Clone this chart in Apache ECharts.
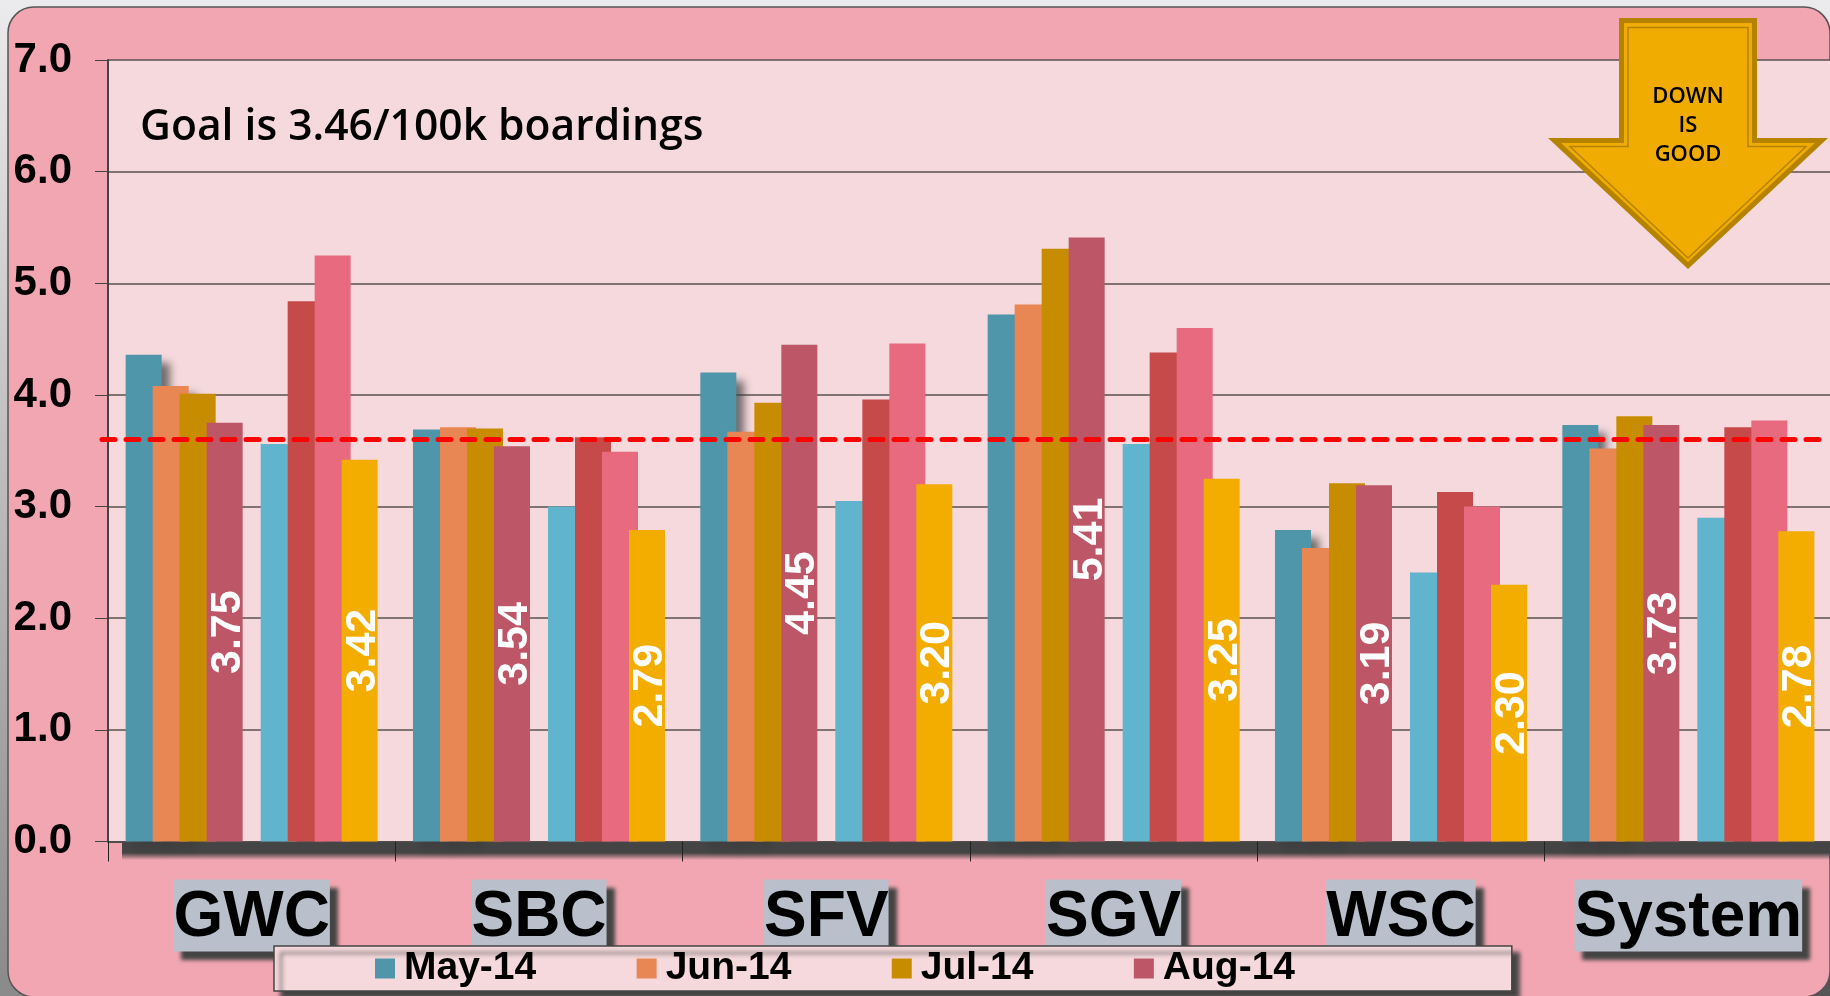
<!DOCTYPE html>
<html>
<head>
<meta charset="utf-8">
<title>Goal chart</title>
<script src="https://cdn.jsdelivr.net/npm/echarts@6/dist/echarts.min.js"></script>
<style>
  html, body { margin: 0; padding: 0; }
  #chart { width: 1830px; height: 996px; }
</style>
</head>
<body>
<div id="chart"></div>
<script>
const categories = ['GWC', 'SBC', 'SFV', 'SGV', 'WSC', 'System']

// first group of bars (the ones in the legend)
const may14 = [4.36, 3.69, 4.20, 4.72, 2.79, 3.73]
const jun14 = [4.08, 3.71, 3.67, 4.81, 2.63, 3.52]
const jul14 = [4.01, 3.70, 3.93, 5.31, 3.21, 3.81]
const aug14 = [3.75, 3.54, 4.45, 5.41, 3.19, 3.73]

// second group of bars, not in the legend
const second1 = [3.56, 3.00, 3.05, 3.56, 2.41, 2.90]
const second2 = [4.84, 3.62, 3.96, 4.38, 3.13, 3.71]
const second3 = [5.25, 3.49, 4.46, 4.60, 3.00, 3.77]
const second4 = [3.42, 2.79, 3.20, 3.25, 2.30, 2.78]

const goalLine = 3.6
const yTicks = { min: 0, max: 7, interval: 1 }
const legendNames = ['May-14', 'Jun-14', 'Jul-14', 'Aug-14']

const chart = echarts.init(document.getElementById('chart'))

const valueLabel = {
  show: true,
  position: 'inside',
  rotate: 90,
  offset: [0, 3],
  color: '#fff',
  fontFamily: 'Liberation Sans',
  fontWeight: 'bold',
  fontSize: 43,
  formatter: p => p.value.toFixed(2)
}

const barShadow = { shadowColor: 'rgba(60,60,60,0.7)', shadowBlur: 8, shadowOffsetX: 8, shadowOffsetY: 8 }

function bar(name, data, color, extra) {
  return Object.assign({
    name: name,
    type: 'bar',
    data: data,
    barWidth: 36,
    barGap: '-25%',
    itemStyle: { color: color }
  }, extra)
}

const series = [
  bar('May-14', may14, '#4f96aa', { itemStyle: Object.assign({ color: '#4f96aa' }, barShadow) }),
  bar('Jun-14', jun14, '#e88654', { itemStyle: Object.assign({ color: '#e88654' }, barShadow) }),
  bar('Jul-14', jul14, '#c88c00'),
  bar('Aug-14', aug14, '#bd5666', { label: valueLabel }),
  // empty slot between the two groups
  bar('gap', categories.map(() => null), 'transparent'),
  bar('second1', second1, '#61b4ce'),
  bar('second2', second2, '#c54a49'),
  bar('second3', second3, '#e76a7f'),
  bar('second4', second4, '#f2ad00', {
    label: valueLabel,
    markLine: {
      silent: true,
      symbol: 'none',
      animation: false,
      label: { show: false },
      lineStyle: { color: '#ff0000', width: 5, type: [13, 11], cap: 'round' },
      data: [[{ x: 102, yAxis: goalLine }, { x: 1830, yAxis: goalLine }]]
    }
  })
]

const arrowDark = '#b58300'
const arrowFill = '#f0ac00'

const graphic = [
  // page behind the panel
  { type: 'rect', z: -10, shape: { x: 0, y: 0, width: 1830, height: 996 },
    style: { fill: new echarts.graphic.LinearGradient(0, 0, 0, 1, [
      { offset: 0, color: '#ebebed' }, { offset: 1, color: '#8a8a8a' }]) } },
  { type: 'rect', z: -10, shape: { x: 1780, y: 960, width: 50, height: 36 }, style: { fill: '#555' } },
  // pink panel
  { type: 'rect', z: -9, shape: { x: 8, y: 7, width: 1822, height: 990, r: 26 },
    style: { fill: '#f2a6b2', stroke: '#555', lineWidth: 1.5 } },
  // dark band under the axis
  { type: 'rect', z: -8, shape: { x: 122, y: 842, width: 1708, height: 18 },
    style: { fill: new echarts.graphic.LinearGradient(0, 0, 0, 1, [
      { offset: 0, color: '#444' }, { offset: 0.6, color: '#444' }, { offset: 1, color: 'rgba(68,68,68,0)' }]) } },
  // arrow
  { type: 'polygon', z: 20, silent: true,
    shape: { points: [[1619, 18], [1757, 18], [1757, 138], [1828, 138], [1688, 269], [1548, 138], [1619, 138]] },
    style: { fill: arrowDark } },
  { type: 'polygon', z: 21, silent: true,
    shape: { points: [[1624, 23], [1752, 23], [1752, 143], [1815, 143], [1688, 262], [1561, 143], [1624, 143]] },
    style: { fill: arrowFill } },
  { type: 'polygon', z: 22, silent: true,
    shape: { points: [[1628, 27.5], [1748, 27.5], [1748, 146.5], [1806, 146.5], [1688, 258], [1570, 146.5], [1628, 146.5]] },
    style: { fill: arrowFill, stroke: arrowDark, lineWidth: 1.5 } },
  { type: 'text', z: 23, silent: true, x: 1688, y: 126,
    style: { text: 'DOWN\nIS\nGOOD', font: '600 22px "Open Sans"', fill: '#000', align: 'center',
      verticalAlign: 'middle', lineHeight: 29 } }
]

const option = {
  animation: false,
  title: {
    text: 'Goal is 3.46/100k boardings',
    left: 140,
    top: 106,
    padding: 0,
    textStyle: { fontFamily: 'Open Sans', fontWeight: 600, fontSize: 42.6, color: '#000' }
  },
  graphic: graphic,
  legend: {
    data: legendNames,
    left: 274,
    top: 946,
    orient: 'horizontal',
    icon: 'rect',
    itemWidth: 20,
    itemHeight: 20,
    itemGap: 100.4,
    padding: [1, 216.8, 1, 101],
    backgroundColor: '#f5d9dc',
    borderColor: '#444',
    borderWidth: 1.5,
    borderRadius: 0,
    shadowColor: '#444',
    shadowBlur: 4,
    shadowOffsetX: 7,
    shadowOffsetY: 7,
    selectedMode: false,
    textStyle: { fontFamily: 'Liberation Sans', fontWeight: 'bold', fontSize: 39, color: '#000', padding: [2, 0, 0, 4], lineHeight: 41 }
  },
  grid: { left: 108, width: 1724, top: 60, bottom: 154.5, outerBoundsMode: 'none', show: true, backgroundColor: '#f5d9dc', borderWidth: 0 },
  xAxis: {
    type: 'category',
    data: categories,
    axisLine: { lineStyle: { color: '#444', width: 1.5 } },
    axisTick: { show: true, alignWithLabel: false, length: 20, lineStyle: { color: '#222', width: 1 } },
    axisLabel: {
      interval: 0,
      margin: 38,
      fontFamily: 'Liberation Sans',
      fontWeight: 'bold',
      fontSize: 64,
      color: '#000',
      lineHeight: 66,
      padding: [6, 0, 0, 0],
      backgroundColor: '#b9c0cc',
      shadowColor: '#444',
      shadowBlur: 4,
      shadowOffsetX: 8,
      shadowOffsetY: 8
    }
  },
  yAxis: {
    type: 'value',
    min: yTicks.min,
    max: yTicks.max,
    interval: yTicks.interval,
    axisLine: { show: true, lineStyle: { color: '#444', width: 2 } },
    axisTick: { show: true, length: 13, lineStyle: { color: '#444', width: 1 } },
    axisLabel: {
      margin: 36,
      fontFamily: 'Liberation Sans',
      fontWeight: 'bold',
      fontSize: 42,
      color: '#000',
      formatter: v => v.toFixed(1)
    },
    splitLine: { lineStyle: { color: '#5a5052', width: 1.5 } }
  },
  series: series
}

chart.setOption(option)
</script>
</body>
</html>
